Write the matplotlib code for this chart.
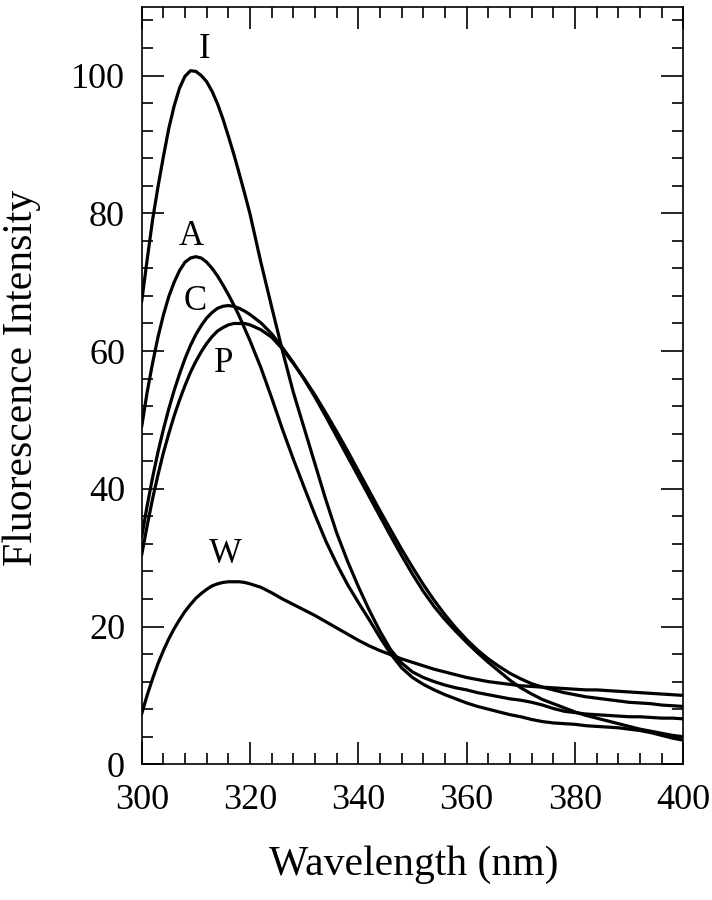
import matplotlib
matplotlib.use("Agg")
import matplotlib.pyplot as plt
from matplotlib.ticker import MultipleLocator

plt.rcParams['font.family'] = ['Liberation Serif', 'DejaVu Serif']

wavelength = list(range(300, 321, 1)) + list(range(322, 402, 2))

I_vals = [67.2, 73.2, 79.0, 83.8, 88.2, 92.3, 95.6, 98.2, 99.9, 100.7,
          100.6, 100.0, 99.1, 97.7, 95.9, 93.7, 91.2, 88.6, 85.8, 82.9,
          79.9,
          72.9, 66.4, 60.0, 54.0, 48.8, 43.6, 38.4, 33.6, 29.5,
          25.8, 22.4, 19.3, 16.6, 14.7, 13.4, 12.6, 12.0, 11.5, 11.1,
          10.8, 10.4, 10.1, 9.8, 9.5, 9.3, 9.0, 8.6, 8.1, 7.7,
          7.5, 7.3, 7.2, 7.1, 7.0, 6.9, 6.9, 6.8, 6.7, 6.7, 6.6]

A_vals = [49.0, 54.0, 58.2, 62.0, 65.2, 67.9, 70.0, 71.7, 72.9, 73.5,
          73.7, 73.5, 72.9, 72.0, 70.9, 69.6, 68.2, 66.7, 65.1, 63.3,
          61.5,
          57.6, 53.2, 48.6, 44.3, 40.2, 36.2, 32.4, 29.1, 26.1,
          23.5, 21.0, 18.4, 16.0, 14.0, 12.6, 11.6, 10.8, 10.1, 9.5,
          8.9, 8.4, 8.0, 7.6, 7.2, 6.9, 6.5, 6.2, 6.0, 5.9,
          5.8, 5.6, 5.5, 5.4, 5.3, 5.1, 4.9, 4.6, 4.2, 3.8, 3.5]

C_vals = [33.0, 37.5, 41.6, 45.3, 48.6, 51.6, 54.3, 56.7, 58.9, 60.8,
          62.4, 63.7, 64.8, 65.6, 66.2, 66.5, 66.6, 66.5, 66.2, 65.8,
          65.3,
          64.1, 62.5, 60.5, 58.3, 55.9, 53.3, 50.5, 47.6, 44.7,
          41.8, 38.9, 36.0, 33.1, 30.3, 27.6, 25.1, 22.9, 21.0, 19.3,
          17.7, 16.2, 14.8, 13.5, 12.2, 11.1, 10.2, 9.4, 8.8, 8.2,
          7.6, 7.1, 6.7, 6.3, 5.9, 5.5, 5.1, 4.8, 4.5, 4.2, 4.0]

P_vals = [30.4, 34.6, 38.5, 42.0, 45.2, 48.0, 50.6, 52.9, 55.0, 56.9,
          58.5, 59.9, 61.1, 62.1, 62.9, 63.4, 63.8, 64.0, 64.0, 64.0,
          63.8,
          63.1, 62.0, 60.3, 58.2, 56.0, 53.6, 51.0, 48.3, 45.5,
          42.6, 39.7, 36.8, 34.0, 31.2, 28.6, 26.1, 23.8, 21.7, 19.8,
          18.1, 16.6, 15.3, 14.2, 13.2, 12.4, 11.7, 11.2, 10.8, 10.4,
          10.1, 9.8, 9.6, 9.4, 9.2, 9.0, 8.9, 8.8, 8.6, 8.5, 8.4]

W_vals = [7.3, 10.0, 12.4, 14.6, 16.5, 18.2, 19.7, 21.0, 22.2, 23.2,
          24.1, 24.8, 25.4, 25.9, 26.2, 26.4, 26.5, 26.5, 26.5, 26.4,
          26.2,
          25.7, 24.9, 24.0, 23.2, 22.4, 21.6, 20.7, 19.8, 18.9,
          18.0, 17.2, 16.5, 15.9, 15.3, 14.8, 14.3, 13.8, 13.4, 13.0,
          12.6, 12.3, 12.0, 11.8, 11.6, 11.4, 11.3, 11.2, 11.1, 11.0,
          10.9, 10.8, 10.8, 10.7, 10.6, 10.5, 10.4, 10.3, 10.2, 10.1, 10.0]

series = [I_vals, A_vals, C_vals, P_vals, W_vals]

label_text = ["I", "A", "C", "P", "W"]
label_x = [311.7, 309.1, 309.9, 315.2, 315.4]
label_y = [103.8, 76.6, 67.2, 58.2, 30.4]

fig = plt.figure(figsize=(7.12, 9.0), dpi=100)
ax = fig.add_axes([0.199, 0.1508, 0.7607, 0.8418])

for vals in series:
    ax.plot(wavelength, vals, color='black', lw=2.3, solid_capstyle='round',
            solid_joinstyle='round')

for t, lx, ly in zip(label_text, label_x, label_y):
    ax.text(lx, ly, t, fontsize=25, ha='center', va='center')

ax.set_xlim(300, 400)
ax.set_ylim(0, 110)
ax.xaxis.set_major_locator(MultipleLocator(20))
ax.xaxis.set_minor_locator(MultipleLocator(4))
ax.yaxis.set_major_locator(MultipleLocator(20))
ax.yaxis.set_minor_locator(MultipleLocator(4))

ax.tick_params(which='both', direction='in', top=True, right=True, width=1.2, colors='black')
ax.tick_params(which='major', length=15.5)
ax.tick_params(which='minor', length=8)
ax.tick_params(axis='x', which='major', pad=14, labelsize=26)
ax.tick_params(axis='y', which='major', pad=12, labelsize=26)
for sp in ax.spines.values():
    sp.set_linewidth(1.2)

ax.set_xlabel("Wavelength (nm)", fontsize=30, va='center')
ax.set_ylabel("Fluorescence Intensity", fontsize=30, va='center', ha='center')
ax.xaxis.set_label_coords(0.503, -0.133)
ax.yaxis.set_label_coords(-0.221, 0.51)

fig.savefig("out.png", dpi=100)
